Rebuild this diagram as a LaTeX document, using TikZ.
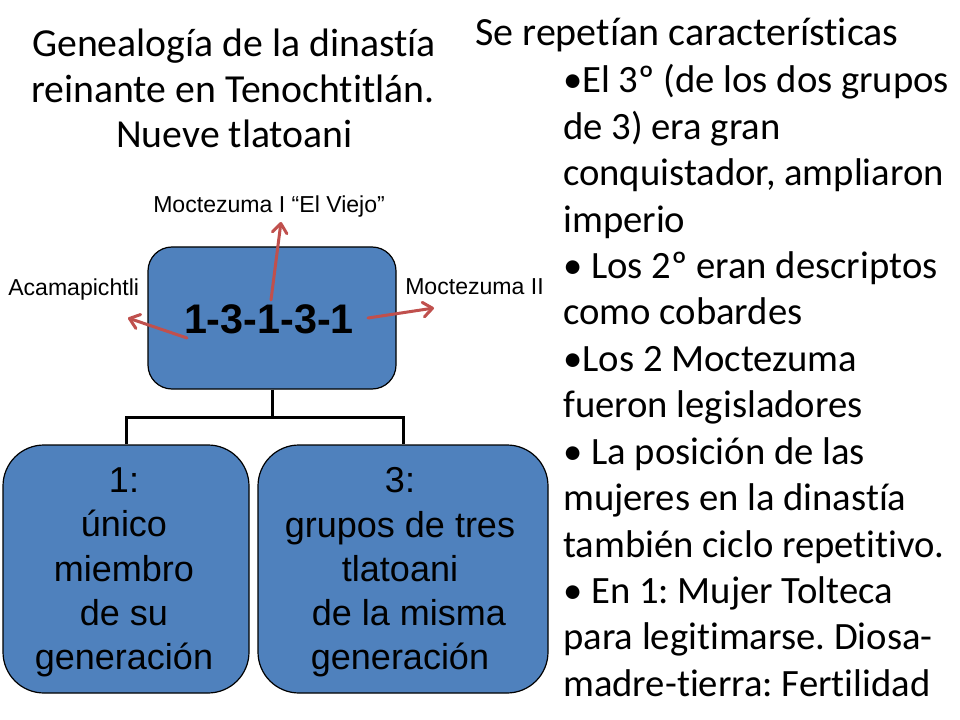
\documentclass[tikz,border=0pt]{standalone}
\usepackage{fontspec}
\setmainfont{Carlito}[Ligatures={NoCommon}]
\newfontfamily\arialfont{Liberation Sans}
\usetikzlibrary{arrows.meta}
\definecolor{boxblue}{RGB}{79,129,189}
\definecolor{arrowred}{RGB}{192,80,77}
\begin{document}
\frenchspacing
\begin{tikzpicture}[x=0.75pt,y=-0.75pt,
  titletext/.style={anchor=base, inner sep=0pt, font=\fontsize{29.8}{36}\selectfont},
  righthead/.style={anchor=base west, inner sep=0pt, font=\fontsize{30}{36}\selectfont},
  righttext/.style={anchor=base west, inner sep=0pt, font=\fontsize{29}{35}\selectfont},
  smalllabel/.style={anchor=base west, inner sep=0pt, font=\arialfont\fontsize{17.3}{20}\selectfont},
  bluebox/.style={draw=black, line width=0.9pt, fill=boxblue, inner sep=0pt},
  boxtext/.style={anchor=center, inner sep=0pt, align=center, font=\arialfont\fontsize{27}{33.2}\selectfont},
  conn/.style={line width=2.25pt},
  redarrow/.style={draw=arrowred, line width=2.25pt, line cap=round, -{Straight Barb[length=7pt,width=11pt,line cap=round,line join=round]}}
]
\useasboundingbox (0,0) rectangle (960,720);
\fill[white] (0,0) rectangle (960,720);

% title
\node[titletext] (title1) at (234,57) {Genealogía de la dinastía};
\node[titletext] (title2) at (233,102.5) {reinante en Tenochtitlán.};
\node[titletext] (title3) at (234.5,148) {Nueve tlatoani};

% right text
\node[righthead] (rhead) at (475,46) {Se repetían características};
\foreach \t [count=\i from 0] in {%
  {•El 3º (de los dos grupos},
  {de 3) era gran},
  {conquistador, ampliaron},
  {imperio},
  {• Los 2º eran descriptos},
  {como cobardes},
  {•Los 2 Moctezuma},
  {fueron legisladores},
  {• La posición de las},
  {mujeres en la dinastía},
  {también ciclo repetitivo.},
  {• En 1: Mujer Tolteca},
  {para legitimarse. Diosa-},
  {madre-tierra: Fertilidad}}
{ \node[righttext] (r\i) at (563,{93+46.4*\i}) {\t}; }

% boxes
\node[bluebox, rounded corners=18pt, minimum width=186pt, minimum height=106.5pt] (top) at (272,318) {};
\node[bluebox, rounded corners=30.75pt, minimum width=184.5pt, minimum height=186pt] (left) at (126,569) {};
\node[bluebox, rounded corners=30.75pt, minimum width=217.5pt, minimum height=186pt] (right) at (403,569) {};

% connectors
\coordinate (midc) at (272,417);
\draw[conn] (top.south) -- (midc);
\draw[conn] (left.north) |- (midc) -| (right.north);

% box texts
\node[anchor=base, inner sep=0pt, font=\arialfont\bfseries\fontsize{31}{36}\selectfont] (seq) at (269,333) {1-3-1-3-1};
\node[boxtext] (ltext) at (124,572.5) {1:\\único\\miembro\\de su\\generación};
\node[boxtext] (rtext) at (400,572.5) {3:\\grupos de tres\\tlatoani\\\hspace*{0.5em}de la misma\\generación};

% labels
\node[smalllabel] (acama) at (8,296) {Acamapichtli};
\node[smalllabel] (mocte1) at (153,213) {Moctezuma I “El Viejo”};
\node[smalllabel] (mocte2) at (405,295) {Moctezuma II};

% arrows
\coordinate (a1s) at (187,338);
\coordinate (a1e) at (128,318);
\coordinate (a2s) at (271,300);
\coordinate (a2e) at (281,222);
\coordinate (a3s) at (368,318);
\coordinate (a3e) at (434,308);
\draw[redarrow] (a1s) -- (a1e);
\draw[redarrow] (a2s) -- (a2e);
\draw[redarrow] (a3s) -- (a3e);
\end{tikzpicture}
\end{document}
